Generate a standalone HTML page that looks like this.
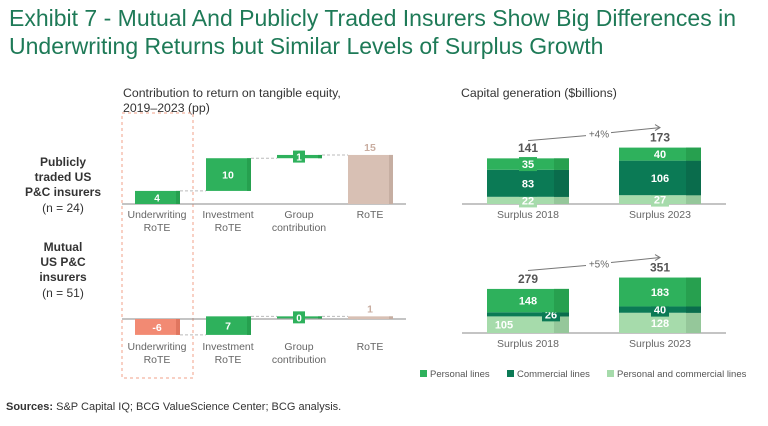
<!DOCTYPE html>
<html><head><meta charset="utf-8"><style>
body{margin:0;background:#fff;font-family:"Liberation Sans",sans-serif;}
svg text{font-family:"Liberation Sans",sans-serif;}
</style></head><body>
<svg width="768" height="421" viewBox="0 0 768 421" xmlns="http://www.w3.org/2000/svg">
<text x="9" y="26" font-size="23" fill="#1e7a57">Exhibit 7 - Mutual And Publicly Traded Insurers Show Big Differences in</text>
<text x="9" y="54" font-size="23" fill="#1e7a57">Underwriting Returns but Similar Levels of Surplus Growth</text>
<text x="123" y="97" font-size="12.3" fill="#333">Contribution to return on tangible equity,</text>
<text x="123" y="112" font-size="12.3" fill="#333">2019–2023 (pp)</text>
<text x="461" y="97" font-size="12.3" fill="#333">Capital generation ($billions)</text>
<g font-size="12" font-weight="bold" fill="#333" text-anchor="middle">
<text x="63" y="166">Publicly</text><text x="63" y="181">traded US</text><text x="63" y="196">P&amp;C insurers</text><text x="63" y="212" font-weight="normal">(n = 24)</text>
<text x="63" y="251">Mutual</text><text x="63" y="266">US P&amp;C</text><text x="63" y="281">insurers</text><text x="63" y="297" font-weight="normal">(n = 51)</text>
</g>
<rect x="122" y="113" width="71" height="265" fill="none" stroke="#f0a08a" stroke-dasharray="3,3"/>
<g id="wf"></g>
<g id="cap"></g>
<g font-size="9.5" fill="#555">
<rect x="420" y="370" width="7" height="7" fill="#2eb15c"/><text x="430" y="377">Personal lines</text>
<rect x="507" y="370" width="7" height="7" fill="#0b7a55"/><text x="517" y="377">Commercial lines</text>
<rect x="607" y="370" width="7" height="7" fill="#a6dbab"/><text x="617" y="377">Personal and commercial lines</text>
</g>
<text x="6" y="410" font-size="11" fill="#333"><tspan font-weight="bold">Sources:</tspan> S&amp;P Capital IQ; BCG ValueScience Center; BCG analysis.</text>
</svg>
<script>
const wfCategories=["Underwriting|RoTE","Investment|RoTE","Group|contribution","RoTE"];
const publicValues=[4,10,1,15];
const mutualValues=[-6,7,0,1];
const capCategories=["Surplus 2018","Surplus 2023"];
const publicPersonal=[35,40];
const publicCommercial=[83,106];
const publicBoth=[22,27];
const publicTotals=[141,173];
const mutualPersonal=[148,183];
const mutualCommercial=[26,40];
const mutualBoth=[105,128];
const mutualTotals=[279,351];
const growthLabels=["+4%","+5%"];
const NS="http://www.w3.org/2000/svg";
function mk(p,t,a,txt){const e=document.createElementNS(NS,t);for(const k in a)e.setAttribute(k,a[k]);if(txt!==undefined)e.textContent=txt;p.appendChild(e);return e;}
const wf=document.getElementById('wf');
function waterfall(vals,base,scale,tag){
  const xs=i=>135+i*71;const y=v=>base-v*scale;
  mk(wf,'line',{x1:122,x2:406,y1:base,y2:base,stroke:'#888','stroke-width':1});
  let cum=0,minV=0;
  vals.forEach((v,i)=>{if(i<vals.length-1){cum+=v;}});
  cum=0;
  vals.forEach((v,i)=>{const last=i===vals.length-1;if(!last){minV=Math.min(minV,cum+v,cum);cum+=v;}else minV=Math.min(minV,v);});
  const labelBase=Math.max(base,y(minV));
  cum=0;
  vals.forEach((v,i)=>{
    const last=i===vals.length-1;
    let a,b;
    if(last){a=0;b=v;}else{a=cum;b=cum+v;cum=b;}
    const top=Math.min(y(a),y(b)),h=Math.max(Math.abs(y(a)-y(b)),2);
    const col=last?'#d8c0b4':(v<0?'#f28a73':'#2eb15c');
    const dk=last?'#c6aea2':(v<0?'#e0765f':'#26a04f');
    const g=mk(wf,'g',{});
    
    
    mk(g,'rect',{x:xs(i),y:top,width:45,height:h,fill:col});
    mk(g,'rect',{x:xs(i)+41,y:top,width:4,height:h,fill:dk});
    if(!last){const ny=y(b);mk(wf,'line',{x1:xs(i)+45,x2:xs(i+1),y1:ny,y2:ny,stroke:'#bbb','stroke-dasharray':'3,2'});}
    if(last){mk(wf,'text',{x:xs(i)+22,y:top-4,'font-size':10.5,'text-anchor':'middle',fill:'#c9ada0','font-weight':'bold'},String(v));}
    else if(h<14){const cy=top+h/2;mk(wf,'rect',{x:xs(i)+16,y:cy-6,width:12,height:12,fill:'#2eb15c'});mk(wf,'text',{x:xs(i)+22,y:cy+4,'font-size':10,'text-anchor':'middle',fill:'#fff','font-weight':'bold'},String(v));}
    else mk(wf,'text',{x:xs(i)+22,y:top+h/2+4,'font-size':10.5,'text-anchor':'middle',fill:'#fff','font-weight':'bold'},String(v));
    wfCategories[i].split('|').forEach((s,k)=>{const t=mk(wf,'text',{x:xs(i)+22,y:labelBase+(labelBase>base?15:14)+k*13,'font-size':10.5,'text-anchor':'middle',fill:'#666'},s);});
  });
}
waterfall(publicValues,204,3.27,'public');
waterfall(mutualValues,319,2.65,'mutual');
const cap=document.getElementById('cap');
function stack(pers,comm,both,tots,base,scale,growth,tag){
  const xs=i=>487+i*132;
  mk(cap,'line',{x1:462,x2:726,y1:base,y2:base,stroke:'#888'});
  capCategories.forEach((c,i)=>{
    const segs=[[both[i],'#a6dbab','#95c79a'],[comm[i],'#0b7a55','#0a6c4c'],[pers[i],'#2eb15c','#27a04f']];
    let cum=0;
    segs.forEach((s,k)=>{
      const y0=base-cum*scale,h=s[0]*scale;cum+=s[0];
      const r=mk(cap,'rect',{x:xs(i),y:y0-h,width:82,height:h,fill:s[1]});
      
      
      mk(cap,'rect',{x:xs(i)+67,y:y0-h,width:15,height:h,fill:s[2]});
      let lx=xs(i)+41,ly=y0-h/2+4;
      if(h<12){
        if(tag==='mutual'&&i===0){lx=xs(i)+64;}
        mk(cap,'rect',{x:lx-9,y:y0-h/2-7,width:18,height:14,fill:s[1]});
      }
      if(tag==='mutual'&&i===0&&k===0)lx=xs(i)+17;
      mk(cap,'text',{x:lx,y:ly,'font-size':11,'text-anchor':'middle',fill:'#fff','font-weight':'bold'},String(s[0]));
    });
    const tt=mk(cap,'text',{x:xs(i)+41,y:base-tots[i]*scale-6,'font-size':12,'text-anchor':'middle',fill:'#555','font-weight':'bold'},String(tots[i]));
    
    
    mk(cap,'text',{x:xs(i)+41,y:base+14,'font-size':10.5,'text-anchor':'middle',fill:'#666'},c);
  });
  const ay=base-Math.max(tots[0],tots[1])*scale-20;
  mk(cap,'line',{x1:528,y1:ay+13,x2:586,y2:ay+8,stroke:'#777'});
  mk(cap,'line',{x1:611,y1:ay+5,x2:660,y2:ay,stroke:'#777'});
  mk(cap,'path',{d:`M655,${ay-3} L660,${ay} L655,${ay+3}`,fill:'none',stroke:'#777'});
  mk(cap,'text',{x:599,y:ay+10,'font-size':10,'text-anchor':'middle',fill:'#666'},growth);
}
stack(publicPersonal,publicCommercial,publicBoth,publicTotals,204,0.326,growthLabels[0],'public');
stack(mutualPersonal,mutualCommercial,mutualBoth,mutualTotals,333,0.158,growthLabels[1],'mutual');
</script>
</body></html>
